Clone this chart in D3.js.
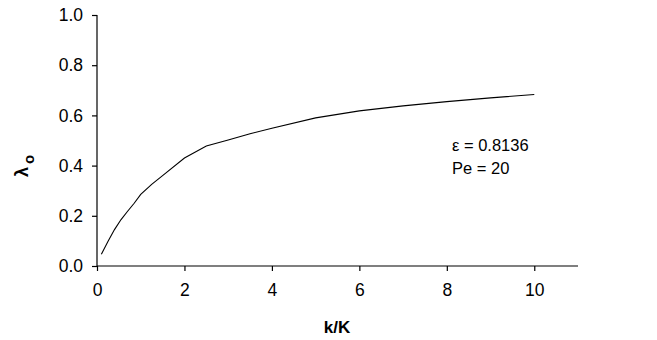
<!DOCTYPE html>
<html>
<head>
<meta charset="utf-8">
<script src="https://cdn.jsdelivr.net/npm/d3@7"></script>
<style>
  html, body { margin: 0; padding: 0; background: #fff; }
  svg { display: block; }
  text { font-family: "Liberation Sans", Arial, sans-serif; fill: #000; }
</style>
</head>
<body>
<div id="chart"></div>
<script>
// Dimensionless flux λo versus permeability ratio k/K (ε = 0.8136, Pe = 20)
const kRatio = [0.1, 0.25, 0.4, 0.55, 0.7, 0.85, 1.0, 1.25, 1.5, 2.0, 2.5, 3.0, 3.5, 4.0, 5.0, 6.0, 7.0, 8.0, 9.0, 10.0];
const lambda0 = [0.047, 0.098, 0.145, 0.185, 0.218, 0.25, 0.285, 0.325, 0.36, 0.43, 0.478, 0.502, 0.527, 0.549, 0.59, 0.618, 0.638, 0.655, 0.67, 0.683];
const xTicks = [0, 2, 4, 6, 8, 10];
const yTicks = [0, 0.2, 0.4, 0.6, 0.8, 1.0];
const notes = ["ε = 0.8136", "Pe = 20"];

const W = 657, H = 340;
const svg = d3.select("#chart").append("svg").attr("width", W).attr("height", H);

const x = d3.scaleLinear().domain([0, 11]).range([97, 578]);
const y = d3.scaleLinear().domain([0, 1]).range([266, 15]);

const xAxis = svg.append("g")
  .attr("transform", `translate(0,${y(0)})`)
  .call(d3.axisBottom(x).tickValues(xTicks).tickSize(5).tickPadding(13).tickFormat(d3.format("d")));
const yAxis = svg.append("g")
  .attr("transform", `translate(${x(0)},0)`)
  .call(d3.axisLeft(y).tickValues(yTicks).tickSize(5).tickPadding(9).tickFormat(d3.format(".1f")));

[xAxis, yAxis].forEach(g => {
  g.select(".domain").attr("stroke", "#000").attr("stroke-width", 1.2);
  g.selectAll(".tick line").attr("stroke", "#000").attr("stroke-width", 1.2);
  g.selectAll(".tick text").attr("font-size", 17.5).attr("font-family", "Liberation Sans, Arial, sans-serif").attr("fill", "#000");
});
// plain axis lines without outer end ticks
xAxis.select(".domain").attr("d", `M${x(0)},0H${x(11)}`);
yAxis.select(".domain").attr("d", `M0,${y(1)}V${y(0)}`);

const line = d3.line().x((d, i) => x(kRatio[i])).y(d => y(d));
svg.append("path")
  .datum(lambda0)
  .attr("fill", "none")
  .attr("stroke", "#000")
  .attr("stroke-width", 1.1)
  .attr("d", line);

// axis titles
svg.append("text")
  .attr("x", 337).attr("y", 333)
  .attr("text-anchor", "middle")
  .attr("font-size", 17).attr("font-weight", "bold")
  .text("k/K");

const yl = svg.append("text")
  .attr("transform", "translate(28,166) rotate(-90)")
  .attr("text-anchor", "middle")
  .attr("font-size", 18).attr("font-weight", "bold");
yl.append("tspan").text("λ");
yl.append("tspan").attr("dy", 6).attr("dx", 3).attr("font-size", 15).text("o");

// parameter annotation
svg.selectAll("text.note")
  .data(notes)
  .enter().append("text")
  .attr("class", "note")
  .attr("x", 452)
  .attr("y", (d, i) => 151 + i * 23)
  .attr("font-size", 16.5)
  .text(d => d);
</script>
</body>
</html>
